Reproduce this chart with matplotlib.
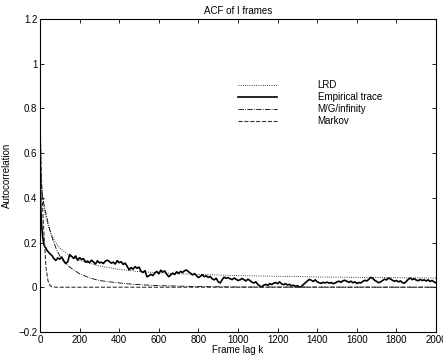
import matplotlib
matplotlib.use("Agg")
import matplotlib.pyplot as plt
import numpy as np

plt.rcParams['font.family'] = ['Liberation Sans', 'DejaVu Sans']

# empirical trace: first lags listed one by one, then every 10 lags from 50 to 2000
emp_lag_early = [0, 1, 2, 3, 4, 6, 8, 10, 13, 16, 20, 25, 30, 35, 40, 45]
emp_val_early = [0.63, 0.52, 0.44, 0.39, 0.35, 0.31, 0.28, 0.26, 0.23, 0.21,
                 0.19, 0.18, 0.175, 0.165, 0.16, 0.155]
emp_lag_late = np.arange(50, 2001, 10)
emp_val_late = [
    0.150, 0.142, 0.128, 0.120, 0.131, 0.126, 0.135, 0.118, 0.106, 0.114,
    0.146, 0.138, 0.129, 0.140, 0.121, 0.132, 0.124, 0.128, 0.112, 0.117,
    0.110, 0.121, 0.113, 0.104, 0.118, 0.109, 0.112, 0.106, 0.117, 0.121,
    0.115, 0.108, 0.112, 0.104, 0.119, 0.110, 0.114, 0.102, 0.108, 0.094,
    0.078, 0.088, 0.081, 0.092, 0.085, 0.090, 0.072, 0.066, 0.074, 0.047,
    0.051, 0.058, 0.052, 0.064, 0.071, 0.060, 0.076, 0.068, 0.073, 0.058,
    0.047, 0.055, 0.063, 0.057, 0.069, 0.062, 0.071, 0.066, 0.074, 0.077,
    0.069, 0.063, 0.055, 0.061, 0.052, 0.043, 0.049, 0.056, 0.047, 0.051,
    0.044, 0.048, 0.037, 0.033, 0.040, 0.024, 0.019, 0.034, 0.045, 0.040,
    0.043, 0.038, 0.034, 0.041, 0.036, 0.030, 0.033, 0.039, 0.034, 0.028,
    0.036, 0.030, 0.023, 0.019, 0.024, 0.013, 0.005, 0.002, 0.009, 0.013,
    0.008, 0.016, 0.012, 0.018, 0.021, 0.016, 0.024, 0.015, 0.011, 0.016,
    0.010, 0.013, 0.006, 0.009, 0.004, 0.007, 0.001, 0.003, 0.012, 0.020,
    0.028, 0.035, 0.031, 0.026, 0.033, 0.024, 0.020, 0.017, 0.022, 0.019,
    0.023, 0.018, 0.021, 0.016, 0.019, 0.024, 0.027, 0.022, 0.029, 0.031,
    0.026, 0.022, 0.027, 0.020, 0.024, 0.017, 0.021, 0.019, 0.026, 0.031,
    0.028, 0.035, 0.044, 0.040, 0.031, 0.026, 0.020, 0.024, 0.030, 0.036,
    0.033, 0.041, 0.037, 0.031, 0.027, 0.030, 0.024, 0.028, 0.021, 0.018,
    0.026, 0.036, 0.041, 0.034, 0.038, 0.032, 0.029, 0.035, 0.030, 0.033,
    0.028, 0.033, 0.026, 0.030, 0.024, 0.019,
]

lrd_lag = [1, 5, 10, 20, 30, 50, 75, 100, 150, 200, 300, 400, 500, 700, 1000, 1400, 2000]
lrd_val = [0.75, 0.52, 0.44, 0.36, 0.31, 0.25, 0.205, 0.175, 0.14, 0.12, 0.095,
           0.08, 0.07, 0.06, 0.052, 0.046, 0.041]

mg_lag = [1, 5, 10, 20, 30, 40, 55, 70, 85, 100, 125, 150, 200, 250, 300, 380,
          470, 600, 800, 1000, 2000]
mg_val = [0.78, 0.5, 0.42, 0.37, 0.33, 0.29, 0.24, 0.2, 0.165, 0.14, 0.11, 0.09,
          0.06, 0.042, 0.03, 0.021, 0.013, 0.007, 0.003, 0.001, 0.0]

markov_lag = [1, 5, 10, 15, 20, 25, 30, 40, 50, 60, 80, 2000]
markov_val = [0.75, 0.55, 0.42, 0.32, 0.24, 0.17, 0.09, 0.03, 0.008, 0.002, 0.0, 0.0]

emp_lag = np.concatenate([emp_lag_early, emp_lag_late])
emp_val = np.concatenate([emp_val_early, emp_val_late])

fig = plt.figure(figsize=(4.43, 3.6), dpi=100)
ax = fig.add_axes([0.0903, 0.078, 0.894, 0.869])

ax.plot(lrd_lag, lrd_val, color='black', linestyle=':', linewidth=0.6, label='LRD')
ax.plot(emp_lag, emp_val, color='black', linestyle='-', linewidth=1.2, label='Empirical trace')
ax.plot(mg_lag, mg_val, color='black', linestyle='-.', linewidth=0.6, label='M/G/infinity')
ax.plot(markov_lag, markov_val, color='#333333', linestyle='--', linewidth=0.8, label='Markov')

ax.set_xlim(0, 2000)
ax.set_ylim(-0.2, 1.2)
ax.set_xticks(np.arange(0, 2001, 200))
ax.set_yticks([-0.2, 0, 0.2, 0.4, 0.6, 0.8, 1, 1.2])
ax.set_yticklabels(['\u22120.2', '0', '0.2', '0.4', '0.6', '0.8', '1', '1.2'])
ax.tick_params(direction='in', top=True, right=True, labelsize=7, length=3, width=0.6, pad=2)
for s in ax.spines.values():
    s.set_linewidth(0.8)

ax.set_title('ACF of I frames', fontsize=7, pad=4)
ax.set_xlabel('Frame lag k', fontsize=7, labelpad=0)
ax.set_ylabel('Autocorrelation', fontsize=7)
ax.yaxis.set_label_coords(-0.072, 0.5)

ax.legend(loc='upper left', bbox_to_anchor=(0.5, 0.805), frameon=False, fontsize=7,
          handlelength=4, handletextpad=4.2, labelspacing=0.2, borderpad=0,
          borderaxespad=0)

fig.savefig('out.png', dpi=100)
